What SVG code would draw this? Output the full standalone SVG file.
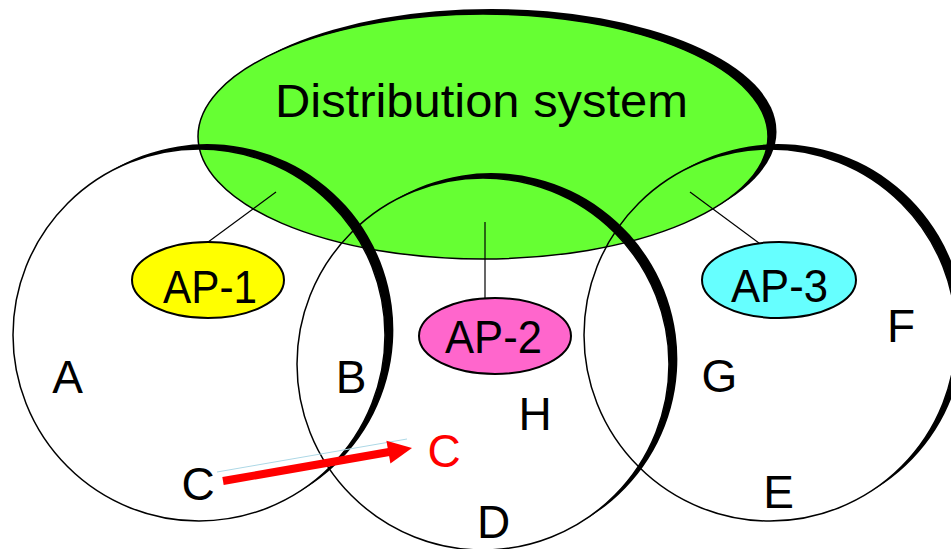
<svg xmlns="http://www.w3.org/2000/svg" width="951" height="549" viewBox="0 0 951 549">
<style>
  .lbl { font-family: "Liberation Sans", Arial, sans-serif; font-size: 46px; fill: #000; }
  .cell { fill: none; stroke: #000; stroke-width: 1.5; }
  .shadow { fill: #000; stroke: none; }
  .ap { stroke: #000; stroke-width: 2; }
  .link { stroke: #000; stroke-width: 1.2; fill: none; }
</style>
<rect width="951" height="549" fill="#fff"/>

<g id="distribution-system">
  <ellipse cx="491.5" cy="131.5" rx="285" ry="122.5" class="shadow"/>
  <ellipse cx="483" cy="136.5" rx="285" ry="122.5" fill="#66FF33" stroke="#000" stroke-width="1.5"/>
  <text class="lbl" x="275" y="117" textLength="413" lengthAdjust="spacingAndGlyphs">Distribution system</text>
</g>

<g id="bss-1">
  <circle cx="199" cy="335" r="186" class="cell"/>
  <path class="shadow" d="M108.98,172.23 A186,186 0 1 1 297.52,492.77 A186,186 0 0 0 108.98,172.23 Z"/>
</g>
<g id="bss-2">
  <circle cx="483" cy="364" r="186" class="cell"/>
  <path class="shadow" d="M392.98,201.23 A186,186 0 1 1 581.52,521.77 A186,186 0 0 0 392.98,201.23 Z"/>
</g>
<g id="bss-3">
  <circle cx="770" cy="335" r="186" class="cell"/>
  <path class="shadow" d="M679.98,172.23 A186,186 0 1 1 868.52,492.77 A186,186 0 0 0 679.98,172.23 Z"/>
</g>

<g id="connectors">
  <line class="link" x1="276" y1="192" x2="200" y2="248"/>
  <line class="link" x1="485" y1="222" x2="485" y2="298"/>
  <line class="link" x1="690" y1="192" x2="767" y2="249"/>
  <line x1="217" y1="472" x2="407" y2="439" stroke="#ADD8E6" stroke-width="1"/>
  <line x1="223" y1="481" x2="389" y2="452" stroke="#FF0000" stroke-width="8"/>
  <polygon points="412,448 390.4,463.4 386.4,440.8" fill="#FF0000"/>
</g>

<g id="ap-1">
  <ellipse cx="208" cy="280" rx="76" ry="38" fill="#FFFF00" class="ap"/>
  <text class="lbl" x="163" y="303" textLength="94" lengthAdjust="spacingAndGlyphs">AP-1</text>
</g>
<g id="ap-2">
  <ellipse cx="495" cy="336" rx="76" ry="38" fill="#FF66CC" class="ap"/>
  <text class="lbl" x="445" y="353" textLength="97" lengthAdjust="spacingAndGlyphs">AP-2</text>
</g>
<g id="ap-3">
  <ellipse cx="779" cy="280" rx="77" ry="38" fill="#66FFFF" class="ap"/>
  <text class="lbl" x="731" y="302" textLength="97" lengthAdjust="spacingAndGlyphs">AP-3</text>
</g>

<g id="stations" text-anchor="middle">
  <text class="lbl" x="67.5" y="393">A</text>
  <text class="lbl" x="351" y="393">B</text>
  <text class="lbl" x="198" y="500">C</text>
  <text class="lbl" x="444" y="467" style="fill:#FF0000">C</text>
  <text class="lbl" x="535" y="430">H</text>
  <text class="lbl" x="493.5" y="538">D</text>
  <text class="lbl" x="778.5" y="508">E</text>
  <text class="lbl" x="901" y="342">F</text>
  <text class="lbl" x="719.5" y="392">G</text>
</g>
</svg>
